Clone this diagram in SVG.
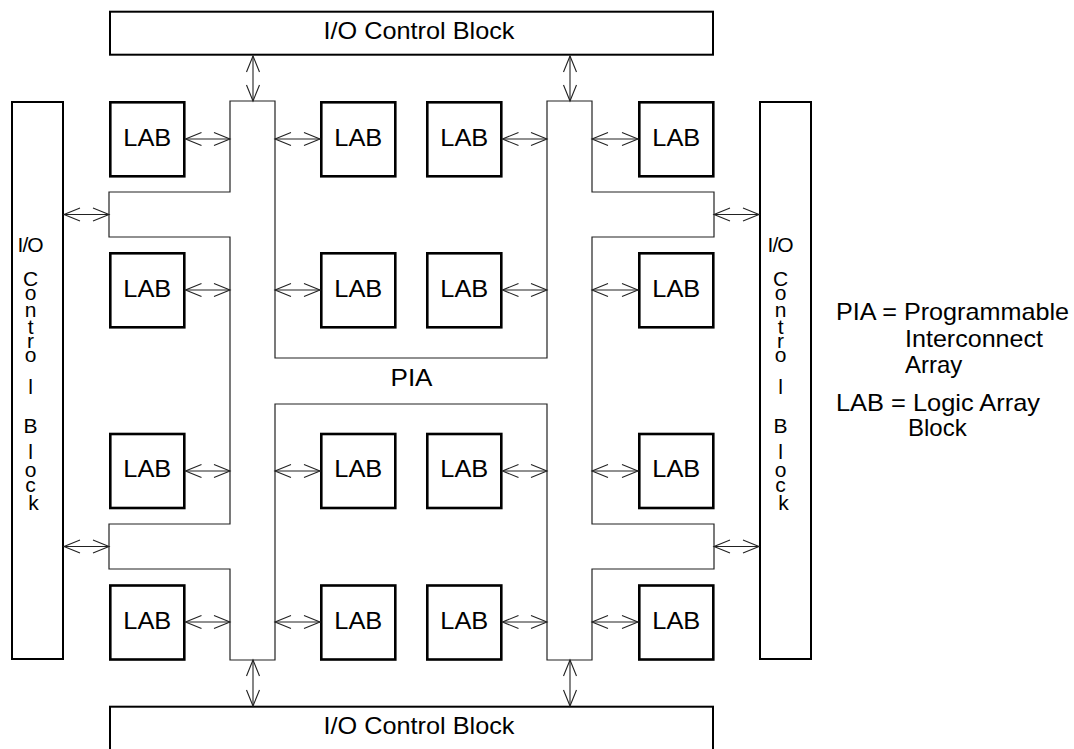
<svg xmlns="http://www.w3.org/2000/svg" width="1074" height="749" viewBox="0 0 1074 749">
  <defs>
    <style>
      text { font-family: "Liberation Sans", Arial, sans-serif; fill: #000; }
      .lbl { font-size: 24px; text-anchor: middle; }
      .leg { font-size: 24px; text-anchor: start; }
      .vt { font-size: 21px; text-anchor: middle; }
      .vio { letter-spacing: -1px; }
      .io { fill: #fff; stroke: #000; stroke-width: 2; }
      .lab { fill: #fff; stroke: #000; stroke-width: 2.6; }
      .pia { fill: #fff; stroke: #222; stroke-width: 1.2; }
      .bus { stroke: #222; stroke-width: 1.1; fill: none; marker-start: url(#ah); marker-end: url(#ah); }
    </style>
    <!-- open V arrowhead, reused at both ends of every bus link -->
    <marker id="ah" viewBox="-18 -9 20 18" refX="0" refY="0" markerWidth="20" markerHeight="18" markerUnits="userSpaceOnUse" orient="auto-start-reverse" overflow="visible">
      <path d="M-16,-6.5 L0,0 L-16,6.5" fill="none" stroke="#222" stroke-width="1.1"/>
    </marker>
  </defs>

  <rect width="1074" height="749" fill="#fff"/>

  <!-- Programmable Interconnect Array (single outline) -->
  <g id="pia">
    <path class="pia" d="M230,101 H275 V358 H547 V101 H592 V192 H714 V237 H592 V524 H714 V569 H592 V660 H547 V404 H275 V660 H230 V569 H109 V524 H230 V237 H109 V192 H230 Z"/>
    <text class="lbl" x="411.5" y="386" textLength="42" lengthAdjust="spacingAndGlyphs">PIA</text>
  </g>

  <!-- I/O control blocks -->
  <g id="io-top">
    <rect class="io" x="110" y="11.7" width="603" height="43"/>
    <text class="lbl" x="419" y="39" textLength="191" lengthAdjust="spacingAndGlyphs">I/O Control Block</text>
  </g>
  <g id="io-bottom">
    <rect class="io" x="110" y="706.7" width="603" height="60"/>
    <text class="lbl" x="419" y="733.5" textLength="191" lengthAdjust="spacingAndGlyphs">I/O Control Block</text>
  </g>
  <g id="io-left">
    <rect class="io" x="12" y="102" width="51" height="557"/>
    <text class="vt">
      <tspan class="vio" x="33" y="252">I/O</tspan>
      <tspan x="33.5" y="286">C</tspan>
      <tspan x="33.5" y="300">o</tspan>
      <tspan x="33.5" y="317">n</tspan>
      <tspan x="33.5" y="334">t</tspan>
      <tspan x="33.5" y="348">r</tspan>
      <tspan x="33.5" y="362">o</tspan>
      <tspan x="33.5" y="394">l</tspan>
      <tspan x="33.5" y="433">B</tspan>
      <tspan x="33.5" y="459">l</tspan>
      <tspan x="33.5" y="477">o</tspan>
      <tspan x="33.5" y="492">c</tspan>
      <tspan x="33.5" y="510">k</tspan>
    </text>
  </g>
  <g id="io-right">
    <rect class="io" x="760" y="102" width="51" height="557"/>
    <text class="vt">
      <tspan class="vio" x="783" y="252">I/O</tspan>
      <tspan x="783.5" y="286">C</tspan>
      <tspan x="783.5" y="300">o</tspan>
      <tspan x="783.5" y="317">n</tspan>
      <tspan x="783.5" y="334">t</tspan>
      <tspan x="783.5" y="348">r</tspan>
      <tspan x="783.5" y="362">o</tspan>
      <tspan x="783.5" y="394">l</tspan>
      <tspan x="783.5" y="433">B</tspan>
      <tspan x="783.5" y="459">l</tspan>
      <tspan x="783.5" y="477">o</tspan>
      <tspan x="783.5" y="492">c</tspan>
      <tspan x="783.5" y="510">k</tspan>
    </text>
  </g>

  <!-- Logic Array Blocks: columns at x 109/320/426/638, rows at y 101/252/433/584 -->
  <g id="lab-r1c1"><rect class="lab" x="110.3" y="102.3" width="74" height="74"/><text class="lbl" x="147.3" y="145.5" textLength="48" lengthAdjust="spacingAndGlyphs">LAB</text></g>
  <g id="lab-r1c2"><rect class="lab" x="321.3" y="102.3" width="74" height="74"/><text class="lbl" x="358.3" y="145.5" textLength="48" lengthAdjust="spacingAndGlyphs">LAB</text></g>
  <g id="lab-r1c3"><rect class="lab" x="427.3" y="102.3" width="74" height="74"/><text class="lbl" x="464.3" y="145.5" textLength="48" lengthAdjust="spacingAndGlyphs">LAB</text></g>
  <g id="lab-r1c4"><rect class="lab" x="639.3" y="102.3" width="74" height="74"/><text class="lbl" x="676.3" y="145.5" textLength="48" lengthAdjust="spacingAndGlyphs">LAB</text></g>

  <g id="lab-r2c1"><rect class="lab" x="110.3" y="253.3" width="74" height="74"/><text class="lbl" x="147.3" y="296.5" textLength="48" lengthAdjust="spacingAndGlyphs">LAB</text></g>
  <g id="lab-r2c2"><rect class="lab" x="321.3" y="253.3" width="74" height="74"/><text class="lbl" x="358.3" y="296.5" textLength="48" lengthAdjust="spacingAndGlyphs">LAB</text></g>
  <g id="lab-r2c3"><rect class="lab" x="427.3" y="253.3" width="74" height="74"/><text class="lbl" x="464.3" y="296.5" textLength="48" lengthAdjust="spacingAndGlyphs">LAB</text></g>
  <g id="lab-r2c4"><rect class="lab" x="639.3" y="253.3" width="74" height="74"/><text class="lbl" x="676.3" y="296.5" textLength="48" lengthAdjust="spacingAndGlyphs">LAB</text></g>

  <g id="lab-r3c1"><rect class="lab" x="110.3" y="434" width="74" height="74"/><text class="lbl" x="147.3" y="477.2" textLength="48" lengthAdjust="spacingAndGlyphs">LAB</text></g>
  <g id="lab-r3c2"><rect class="lab" x="321.3" y="434" width="74" height="74"/><text class="lbl" x="358.3" y="477.2" textLength="48" lengthAdjust="spacingAndGlyphs">LAB</text></g>
  <g id="lab-r3c3"><rect class="lab" x="427.3" y="434" width="74" height="74"/><text class="lbl" x="464.3" y="477.2" textLength="48" lengthAdjust="spacingAndGlyphs">LAB</text></g>
  <g id="lab-r3c4"><rect class="lab" x="639.3" y="434" width="74" height="74"/><text class="lbl" x="676.3" y="477.2" textLength="48" lengthAdjust="spacingAndGlyphs">LAB</text></g>

  <g id="lab-r4c1"><rect class="lab" x="110.3" y="585.5" width="74" height="74"/><text class="lbl" x="147.3" y="628.7" textLength="48" lengthAdjust="spacingAndGlyphs">LAB</text></g>
  <g id="lab-r4c2"><rect class="lab" x="321.3" y="585.5" width="74" height="74"/><text class="lbl" x="358.3" y="628.7" textLength="48" lengthAdjust="spacingAndGlyphs">LAB</text></g>
  <g id="lab-r4c3"><rect class="lab" x="427.3" y="585.5" width="74" height="74"/><text class="lbl" x="464.3" y="628.7" textLength="48" lengthAdjust="spacingAndGlyphs">LAB</text></g>
  <g id="lab-r4c4"><rect class="lab" x="639.3" y="585.5" width="74" height="74"/><text class="lbl" x="676.3" y="628.7" textLength="48" lengthAdjust="spacingAndGlyphs">LAB</text></g>

  <!-- bidirectional bus links -->
  <g id="connectors">
    <!-- I/O top/bottom to PIA -->
    <line class="bus" x1="253" y1="56" x2="253" y2="101"/>
    <line class="bus" x1="570" y1="56" x2="570" y2="101"/>
    <line class="bus" x1="253" y1="660" x2="253" y2="706"/>
    <line class="bus" x1="570" y1="660" x2="570" y2="706"/>
    <!-- I/O left/right to PIA arms -->
    <line class="bus" x1="64" y1="214.5" x2="109" y2="214.5"/>
    <line class="bus" x1="64" y1="546.5" x2="109" y2="546.5"/>
    <line class="bus" x1="714" y1="214.5" x2="759" y2="214.5"/>
    <line class="bus" x1="714" y1="546.5" x2="759" y2="546.5"/>
    <!-- row 1 -->
    <line class="bus" x1="185.5" y1="139" x2="230" y2="139"/>
    <line class="bus" x1="275" y1="139" x2="320" y2="139"/>
    <line class="bus" x1="502.5" y1="139" x2="547" y2="139"/>
    <line class="bus" x1="592" y1="139" x2="638" y2="139"/>
    <!-- row 2 -->
    <line class="bus" x1="185.5" y1="290" x2="230" y2="290"/>
    <line class="bus" x1="275" y1="290" x2="320" y2="290"/>
    <line class="bus" x1="502.5" y1="290" x2="547" y2="290"/>
    <line class="bus" x1="592" y1="290" x2="638" y2="290"/>
    <!-- row 3 -->
    <line class="bus" x1="185.5" y1="471" x2="230" y2="471"/>
    <line class="bus" x1="275" y1="471" x2="320" y2="471"/>
    <line class="bus" x1="502.5" y1="471" x2="547" y2="471"/>
    <line class="bus" x1="592" y1="471" x2="638" y2="471"/>
    <!-- row 4 -->
    <line class="bus" x1="185.5" y1="622" x2="230" y2="622"/>
    <line class="bus" x1="275" y1="622" x2="320" y2="622"/>
    <line class="bus" x1="502.5" y1="622" x2="547" y2="622"/>
    <line class="bus" x1="592" y1="622" x2="638" y2="622"/>
  </g>

  <!-- legend -->
  <g id="legend">
    <text class="leg" x="836" y="320" textLength="233" lengthAdjust="spacingAndGlyphs">PIA = Programmable</text>
    <text class="leg" x="905" y="346.7" textLength="138" lengthAdjust="spacingAndGlyphs">Interconnect</text>
    <text class="leg" x="905" y="372.7">Array</text>
    <text class="leg" x="836" y="411" textLength="204" lengthAdjust="spacingAndGlyphs">LAB = Logic Array</text>
    <text class="leg" x="908" y="435.7">Block</text>
  </g>
</svg>
